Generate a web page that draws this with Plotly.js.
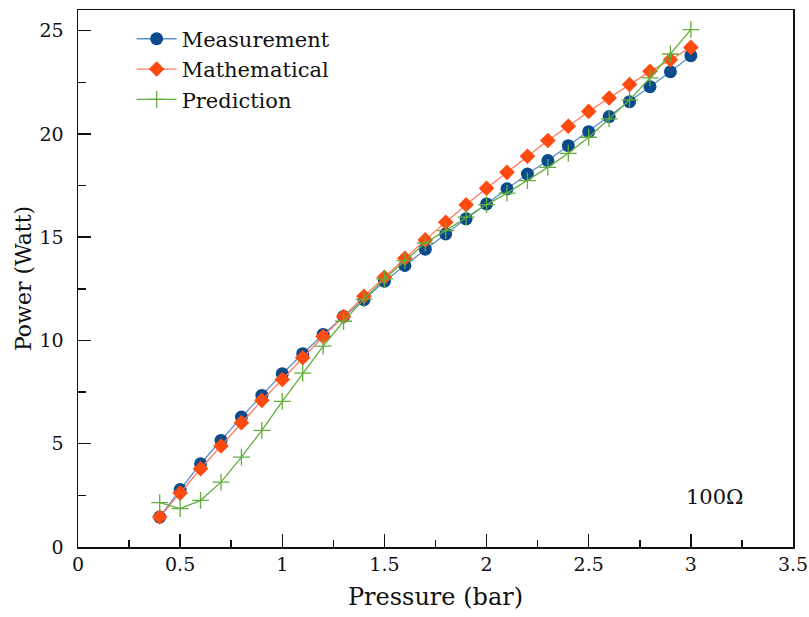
<!DOCTYPE html>
<html>
<head>
<meta charset="utf-8">
<script src="https://cdn.plot.ly/plotly-3.0.1.min.js"></script>
<style>html,body{margin:0;padding:0;background:#fff;}#chart{width:809px;height:617px;}</style>
</head>
<body>
<div id="chart"></div>
<script>
const pressure = [0.4,0.5,0.6,0.7,0.8,0.9,1.0,1.1,1.2,1.3,1.4,1.5,1.6,1.7,1.8,1.9,2.0,2.1,2.2,2.3,2.4,2.5,2.6,2.7,2.8,2.9,3.0];
const measurement = [1.45,2.78,4.03,5.16,6.29,7.34,8.39,9.36,10.29,11.16,11.97,12.87,13.63,14.42,15.16,15.89,16.61,17.34,18.06,18.71,19.43,20.11,20.84,21.56,22.29,23.01,23.79];
const mathematical = [1.45,2.61,3.79,4.89,6.02,7.10,8.11,9.16,10.19,11.16,12.14,13.06,13.98,14.87,15.72,16.57,17.37,18.14,18.92,19.68,20.37,21.09,21.74,22.39,23.03,23.59,24.19];
const prediction = [2.15,1.86,2.26,3.14,4.35,5.65,7.05,8.42,9.73,10.93,12.0,12.98,13.87,14.72,15.32,15.97,16.58,17.13,17.74,18.38,19.06,19.84,20.73,21.65,22.71,23.87,25.05];
const seriesNames = ["Measurement","Mathematical","Prediction"];
const xTitle = "Pressure (bar)";
const yTitle = "Power (Watt)";
const note = "100Ω";

const serif = "DejaVu Serif";
const traces = [
  {x: pressure, y: measurement, name: seriesNames[0], mode: "lines+markers",
   line: {color: "#5b8fc9", width: 1.3},
   marker: {symbol: "circle", size: 13, color: "#0b4a8b"}},
  {x: pressure, y: mathematical, name: seriesNames[1], mode: "lines+markers",
   line: {color: "#ff7a5c", width: 1.3},
   marker: {symbol: "diamond", size: 12, color: "#ff4a0f"}},
  {x: pressure, y: prediction, name: seriesNames[2], mode: "lines+markers",
   line: {color: "#62ad3c", width: 1.3},
   marker: {symbol: "cross-thin", size: 12, color: "#62ad3c", line: {color: "#62ad3c", width: 1.3}}}
];
const layout = {
  width: 809, height: 617,
  margin: {l: 78, r: 16, t: 10, b: 70},
  paper_bgcolor: "#fff", plot_bgcolor: "#fff",
  font: {family: serif, color: "#111"},
  showlegend: true,
  legend: {x: 0.075, y: 0.984, xanchor: "left", yanchor: "top", bgcolor: "rgba(0,0,0,0)",
           font: {family: serif, size: 21, color: "#111"}, tracegroupgap: 0, itemwidth: 40},
  xaxis: {range: [0, 3.5], dtick: 0.5, tick0: 0, ticks: "inside", ticklen: 13, tickwidth: 1.5, tickcolor: "#111",
          showline: true, linecolor: "#111", linewidth: 1.5, mirror: true, showgrid: false, zeroline: false,
          tickfont: {family: serif, size: 19, color: "#111"},
          minor: {dtick: 0.25, tick0: 0, ticks: "inside", ticklen: 7, tickwidth: 1.5, tickcolor: "#111", showgrid: false},
          title: {text: xTitle, font: {family: serif, size: 24, color: "#111"}, standoff: 14}},
  yaxis: {range: [0, 26], dtick: 5, tick0: 0, ticks: "inside", ticklen: 13, tickwidth: 1.5, tickcolor: "#111",
          showline: true, linecolor: "#111", linewidth: 1.5, mirror: true, showgrid: false, zeroline: false,
          tickfont: {family: serif, size: 19, color: "#111"}, ticklabelstandoff: 9,
          minor: {dtick: 2.5, tick0: 0, ticks: "inside", ticklen: 8, tickwidth: 1.5, tickcolor: "#111", showgrid: false},
          title: {text: yTitle, font: {family: serif, size: 22, color: "#111"}, standoff: 2}},
  annotations: [{x: 3.12, y: 2.4, xref: "x", yref: "y", text: note, showarrow: false,
                 font: {family: serif, size: 21, color: "#111"}}]
};
Plotly.newPlot("chart", traces, layout, {displayModeBar: false, staticPlot: true});
</script>
</body>
</html>
